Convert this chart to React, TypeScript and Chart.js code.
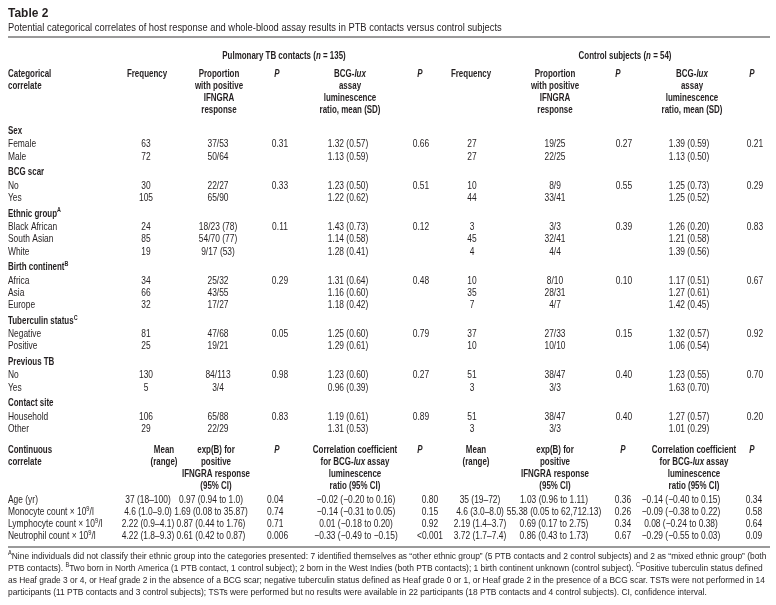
import React, { useEffect, useRef } from "react";
import { Chart, registerables } from "chart.js";
Chart.register(...registerables);

// ---------------- DATA ----------------
const tableTitle = "Table 2";
const tableSubtitle =
  "Potential categorical correlates of host response and whole-blood assay results in PTB contacts versus control subjects";
const cohortHeads = ["Pulmonary TB contacts (_n_ = 135)", "Control subjects (_n_ = 54)"];

const catHeadLabel = ["Categorical", "correlate"];
const catColHeads = [
  ["Frequency"],
  ["Proportion", "with positive", "IFNGRA", "response"],
  ["_P_"],
  ["BCG-_lux_", "assay", "luminescence", "ratio, mean (SD)"],
  ["_P_"],
  ["Frequency"],
  ["Proportion", "with positive", "IFNGRA", "response"],
  ["_P_"],
  ["BCG-_lux_", "assay", "luminescence", "ratio, mean (SD)"],
  ["_P_"],
];

const catGroups = ["Sex", "BCG scar", "Ethnic group^A", "Birth continent^B", "Tuberculin status^C", "Previous TB", "Contact site"];
const catLevels = [
  ["Female", "Male"],
  ["No", "Yes"],
  ["Black African", "South Asian", "White"],
  ["Africa", "Asia", "Europe"],
  ["Negative", "Positive"],
  ["No", "Yes"],
  ["Household", "Other"],
];
const ptbFrequency = [[63, 72], [30, 105], [24, 85, 19], [34, 66, 32], [81, 25], [130, 5], [106, 29]];
const ptbProportion = [
  ["37/53", "50/64"],
  ["22/27", "65/90"],
  ["18/23 (78)", "54/70 (77)", "9/17 (53)"],
  ["25/32", "43/55", "17/27"],
  ["47/68", "19/21"],
  ["84/113", "3/4"],
  ["65/88", "22/29"],
];
const ptbProportionP = ["0.31", "0.33", "0.11", "0.29", "0.05", "0.98", "0.83"];
const ptbLux = [
  ["1.32 (0.57)", "1.13 (0.59)"],
  ["1.23 (0.50)", "1.22 (0.62)"],
  ["1.43 (0.73)", "1.14 (0.58)", "1.28 (0.41)"],
  ["1.31 (0.64)", "1.16 (0.60)", "1.18 (0.42)"],
  ["1.25 (0.60)", "1.29 (0.61)"],
  ["1.23 (0.60)", "0.96 (0.39)"],
  ["1.19 (0.61)", "1.31 (0.53)"],
];
const ptbLuxP = ["0.66", "0.51", "0.12", "0.48", "0.79", "0.27", "0.89"];
const ctlFrequency = [[27, 27], [10, 44], [3, 45, 4], [10, 35, 7], [37, 10], [51, 3], [51, 3]];
const ctlProportion = [
  ["19/25", "22/25"],
  ["8/9", "33/41"],
  ["3/3", "32/41", "4/4"],
  ["8/10", "28/31", "4/7"],
  ["27/33", "10/10"],
  ["38/47", "3/3"],
  ["38/47", "3/3"],
];
const ctlProportionP = ["0.27", "0.55", "0.39", "0.10", "0.15", "0.40", "0.40"];
const ctlLux = [
  ["1.39 (0.59)", "1.13 (0.50)"],
  ["1.25 (0.73)", "1.25 (0.52)"],
  ["1.26 (0.20)", "1.21 (0.58)", "1.39 (0.56)"],
  ["1.17 (0.51)", "1.27 (0.61)", "1.42 (0.45)"],
  ["1.32 (0.57)", "1.06 (0.54)"],
  ["1.23 (0.55)", "1.63 (0.70)"],
  ["1.27 (0.57)", "1.01 (0.29)"],
];
const ctlLuxP = ["0.21", "0.29", "0.83", "0.67", "0.92", "0.70", "0.20"];

const contHeadLabel = ["Continuous", "correlate"];
const contColHeads = [
  ["Mean", "(range)"],
  ["exp(B) for", "positive", "IFNGRA response", "(95% CI)"],
  ["_P_"],
  ["Correlation coefficient", "for BCG-_lux_ assay", "luminescence", "ratio (95% CI)"],
  ["_P_"],
  ["Mean", "(range)"],
  ["exp(B) for", "positive", "IFNGRA response", "(95% CI)"],
  ["_P_"],
  ["Correlation coefficient", "for BCG-_lux_ assay", "luminescence", "ratio (95% CI)"],
  ["_P_"],
];
const contLabels = ["Age (yr)", "Monocyte count × 10^9/l", "Lymphocyte count × 10^9/l", "Neutrophil count × 10^9/l"];
const ptbMean = ["37 (18–100)", "4.6 (1.0–9.0)", "2.22 (0.9–4.1)", "4.22 (1.8–9.3)"];
const ptbExpB = ["0.97 (0.94 to 1.0)", "1.69 (0.08 to 35.87)", "0.87 (0.44 to 1.76)", "0.61 (0.42 to 0.87)"];
const ptbExpBP = ["0.04", "0.74", "0.71", "0.006"];
const ptbCorr = ["−0.02 (−0.20 to 0.16)", "−0.14 (−0.31 to 0.05)", "0.01 (−0.18 to 0.20)", "−0.33 (−0.49 to −0.15)"];
const ptbCorrP = ["0.80", "0.15", "0.92", "<0.001"];
const ctlMean = ["35 (19–72)", "4.6 (3.0–8.0)", "2.19 (1.4–3.7)", "3.72 (1.7–7.4)"];
const ctlExpB = ["1.03 (0.96 to 1.11)", "55.38 (0.05 to 62,712.13)", "0.69 (0.17 to 2.75)", "0.86 (0.43 to 1.73)"];
const ctlExpBP = ["0.36", "0.26", "0.34", "0.67"];
const ctlCorr = ["−0.14 (−0.40 to 0.15)", "−0.09 (−0.38 to 0.22)", "0.08 (−0.24 to 0.38)", "−0.29 (−0.55 to 0.03)"];
const ctlCorrP = ["0.34", "0.58", "0.64", "0.09"];

const footnotes = [
  "^ANine individuals did not classify their ethnic group into the categories presented: 7 identified themselves as “other ethnic group” (5 PTB contacts and 2 control subjects) and 2 as “mixed ethnic group” (both",
  "PTB contacts). ^BTwo born in North America (1 PTB contact, 1 control subject); 2 born in the West Indies (both PTB contacts); 1 birth continent unknown (control subject). ^CPositive tuberculin status defined",
  "as Heaf grade 3 or 4, or Heaf grade 2 in the absence of a BCG scar; negative tuberculin status defined as Heaf grade 0 or 1, or Heaf grade 2 in the presence of a BCG scar. TSTs were not performed in 14",
  "participants (11 PTB contacts and 3 control subjects); TSTs were performed but no results were available in 22 participants (18 PTB contacts and 4 control subjects). CI, confidence interval.",
];

// ---------------- LAYOUT / STYLE ----------------
const W = 776;
const H = 605;
const FAMILY = '"Liberation Sans", Arial, sans-serif';
const INK = "#231f20";
const RULE = "#9a9a9a";
const LEFT = 8;
const RIGHT = 770;
const cohortX = [284, 625];
const catHeadX = [147, 219, 277, 350, 420, 471, 555, 618, 692, 752];
const catValX = [146, 218, 280, 348, 421, 472, 555, 624, 689, 755];
const contHeadX = [164, 216, 277, 355, 420, 476, 555, 623, 694, 752];
const contValX = [148, 211, 267, 356, 430, 480, 554, 623, 681, 754];
const contValAlign = ["center", "center", "left", "center", "center", "center", "center", "center", "center", "center"];
const Y = {
  title: 13,
  subtitle: 28,
  rule1: 37,
  cohort: 56,
  colHead: 74,
  headLine: 12,
  firstGroup: 131,
  pitch: 12.3,
  hdrToData: 13.5,
  dataToHdr: 15.5,
  contHead: 450,
  contHdrToData: 14,
  contPitch: 12,
  rule2Gap: 11,
  footGap: 9,
  footPitch: 12,
};
const SIZE = { title: 13, subtitle: 11, body: 10.4, head: 10.6, foot: 9.6 };
const SQUEEZE = { title: 0.92, subtitle: 0.85, regular: 0.81, bold: 0.75, foot: 0.875 };

type Seg = { t: string; it: boolean; sup: boolean };
function parse(s: string): Seg[] {
  const out: Seg[] = [];
  let it = false;
  let buf = "";
  const flush = () => {
    if (buf) {
      out.push({ t: buf, it, sup: false });
      buf = "";
    }
  };
  for (let i = 0; i < s.length; i++) {
    const c = s[i];
    if (c === "_") {
      flush();
      it = !it;
    } else if (c === "^") {
      flush();
      out.push({ t: s[i + 1], it, sup: true });
      i++;
    } else buf += c;
  }
  flush();
  return out;
}
function fontOf(size: number, bold: boolean, it: boolean) {
  return `${it ? "italic " : ""}${bold ? "bold " : ""}${size}px ${FAMILY}`;
}
function drawRich(
  ctx: CanvasRenderingContext2D,
  s: string,
  x: number,
  y: number,
  align: string,
  size: number,
  bold: boolean,
  sx: number
) {
  const segs = parse(s);
  const widths = segs.map((g) => {
    ctx.font = fontOf(g.sup ? size * 0.68 : size, bold, g.it);
    return ctx.measureText(g.t).width * sx;
  });
  const total = widths.reduce((a, b) => a + b, 0);
  let cx = align === "center" ? x - total / 2 : align === "right" ? x - total : x;
  ctx.textBaseline = "middle";
  ctx.textAlign = "left";
  ctx.fillStyle = INK;
  segs.forEach((g, i) => {
    ctx.font = fontOf(g.sup ? size * 0.68 : size, bold, g.it);
    ctx.save();
    ctx.translate(cx, g.sup ? y - size * 0.3 : y);
    ctx.scale(sx, 1);
    ctx.fillText(g.t, 0, 0);
    ctx.restore();
    cx += widths[i];
  });
}

const tablePlugin = {
  id: "tableText",
  afterDraw(chart: any) {
    const ctx: CanvasRenderingContext2D = chart.ctx;
    const xs = chart.scales.x;
    const ys = chart.scales.y;
    const px = (v: number) => xs.getPixelForValue(v);
    const py = (v: number) => ys.getPixelForValue(v);
    const reg = (s: string, x: number, y: number, align = "center") =>
      drawRich(ctx, s, px(x), py(y), align, SIZE.body, false, SQUEEZE.regular);
    const bold = (s: string, x: number, y: number, align = "center") =>
      drawRich(ctx, s, px(x), py(y), align, SIZE.head, true, SQUEEZE.bold);
    const rule = (y: number) => {
      ctx.save();
      ctx.strokeStyle = RULE;
      ctx.lineWidth = 2;
      ctx.beginPath();
      ctx.moveTo(px(LEFT), py(y));
      ctx.lineTo(px(RIGHT), py(y));
      ctx.stroke();
      ctx.restore();
    };
    ctx.save();
    drawRich(ctx, tableTitle, px(LEFT), py(Y.title), "left", SIZE.title, true, SQUEEZE.title);
    drawRich(ctx, tableSubtitle, px(LEFT), py(Y.subtitle), "left", SIZE.subtitle, false, SQUEEZE.subtitle);
    rule(Y.rule1);
    cohortHeads.forEach((h, i) => bold(h, cohortX[i], Y.cohort));
    catHeadLabel.forEach((l, j) => bold(l, LEFT, Y.colHead + j * Y.headLine, "left"));
    catColHeads.forEach((lines, c) => lines.forEach((l, j) => bold(l, catHeadX[c], Y.colHead + j * Y.headLine)));

    let y = Y.firstGroup;
    let lastY = y;
    catGroups.forEach((g, gi) => {
      bold(g, LEFT, y, "left");
      let ry = y + Y.hdrToData;
      catLevels[gi].forEach((lvl, li) => {
        const cols = [
          String(ptbFrequency[gi][li]),
          ptbProportion[gi][li],
          li === 0 ? ptbProportionP[gi] : "",
          ptbLux[gi][li],
          li === 0 ? ptbLuxP[gi] : "",
          String(ctlFrequency[gi][li]),
          ctlProportion[gi][li],
          li === 0 ? ctlProportionP[gi] : "",
          ctlLux[gi][li],
          li === 0 ? ctlLuxP[gi] : "",
        ];
        reg(lvl, LEFT, ry, "left");
        cols.forEach((v, c) => v && reg(v, catValX[c], ry));
        lastY = ry;
        ry += Y.pitch;
      });
      y = lastY + Y.dataToHdr;
    });

    const ch = Y.contHead;
    contHeadLabel.forEach((l, j) => bold(l, LEFT, ch + j * Y.headLine, "left"));
    contColHeads.forEach((lines, c) => lines.forEach((l, j) => bold(l, contHeadX[c], ch + j * Y.headLine)));
    let cy = ch + 3 * Y.headLine + Y.contHdrToData;
    contLabels.forEach((lab, i) => {
      const cols = [ptbMean[i], ptbExpB[i], ptbExpBP[i], ptbCorr[i], ptbCorrP[i], ctlMean[i], ctlExpB[i], ctlExpBP[i], ctlCorr[i], ctlCorrP[i]];
      reg(lab, LEFT, cy, "left");
      cols.forEach((v, c) => reg(v, contValX[c], cy, contValAlign[c]));
      lastY = cy;
      cy += Y.contPitch;
    });
    const r2 = lastY + Y.rule2Gap;
    rule(r2);
    footnotes.forEach((f, i) =>
      drawRich(ctx, f, px(LEFT), py(r2 + Y.footGap + i * Y.footPitch), "left", SIZE.foot, false, SQUEEZE.foot)
    );
    ctx.restore();
  },
};

export default function App() {
  const ref = useRef<HTMLCanvasElement | null>(null);
  useEffect(() => {
    if (!ref.current) return;
    const chart = new Chart(ref.current, {
      type: "scatter",
      data: { datasets: [] },
      options: {
        animation: false,
        responsive: false,
        devicePixelRatio: 1,
        layout: { padding: 0 },
        plugins: { legend: { display: false }, tooltip: { enabled: false }, title: { display: false } },
        scales: {
          x: { type: "linear", min: 0, max: W, display: false },
          y: { type: "linear", min: 0, max: H, reverse: true, display: false },
        },
      },
      plugins: [tablePlugin],
    } as any);
    return () => chart.destroy();
  }, []);
  return (
    <div style={{ position: "absolute", left: 0, top: 0, width: W, height: H, background: "#fff" }}>
      <canvas ref={ref} width={W} height={H} style={{ display: "block", width: W, height: H }} />
    </div>
  );
}
